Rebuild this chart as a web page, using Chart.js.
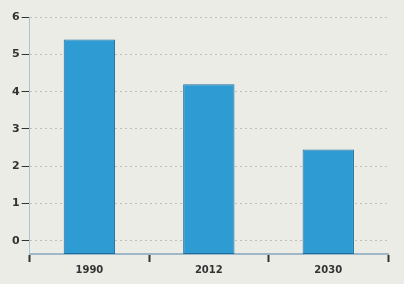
<!DOCTYPE html>
<html>
<head>
<meta charset="utf-8">
<script src="https://cdn.jsdelivr.net/npm/chart.js@4"></script>
<style>
  html, body { margin: 0; padding: 0; background: #ecece6; }
  #wrap { width: 404px; height: 284px; position: relative; }
</style>
</head>
<body>
<div id="wrap"><canvas id="chart" width="404" height="284"></canvas></div>
<script>
  const years = ['1990', '2012', '2030'];
  const values = [5.4, 4.2, 2.45];
  const yTicks = [0, 1, 2, 3, 4, 5, 6];
  const yBase = -0.35; // bars start below the zero line, as in the picture

  const ctx = document.getElementById('chart').getContext('2d');
  const chart = new Chart(ctx, {
    type: 'bar',
    data: {
      labels: years,
      datasets: [{
        data: values.map(v => [yBase, v]),
        backgroundColor: '#2f9bd3',
        borderColor: '#1f6f9e',
        borderWidth: 1,
        borderSkipped: false,
        barPercentage: 0.43,
        categoryPercentage: 1
      }]
    },
    options: {
      responsive: false,
      animation: false,
      layout: { padding: { top: 17, right: 16, left: 10, bottom: 6 } },
      plugins: { legend: { display: false }, tooltip: { enabled: false } },
      scales: {
        x: {
          grid: {
            offset: true,
            drawOnChartArea: false,
            tickLength: 8,
            tickColor: '#333',
            tickWidth: 2
          },
          border: { display: true, color: '#9fb8c8', width: 2 },
          ticks: { color: '#333', font: { family: 'DejaVu Sans', size: 10, weight: 'bold' }, padding: 2 }
        },
        y: {
          min: yBase,
          max: 6,
          afterBuildTicks: axis => { axis.ticks = yTicks.map(v => ({ value: v })); },
          grid: {
            color: '#c0c0b8',
            tickColor: '#333',
            tickLength: 8
          },
          border: { display: true, color: '#a8c4d6', width: 1 },
          ticks: { color: '#333', font: { family: 'DejaVu Sans', size: 11, weight: 'bold' }, padding: 2 }
        }
      }
    }
  });
  // dotted grid lines
  chart.options.scales.y.grid.borderDash = [2, 3];
  chart.options.scales.y.border.dash = [2, 3];
  chart.update();
</script>
</body>
</html>
